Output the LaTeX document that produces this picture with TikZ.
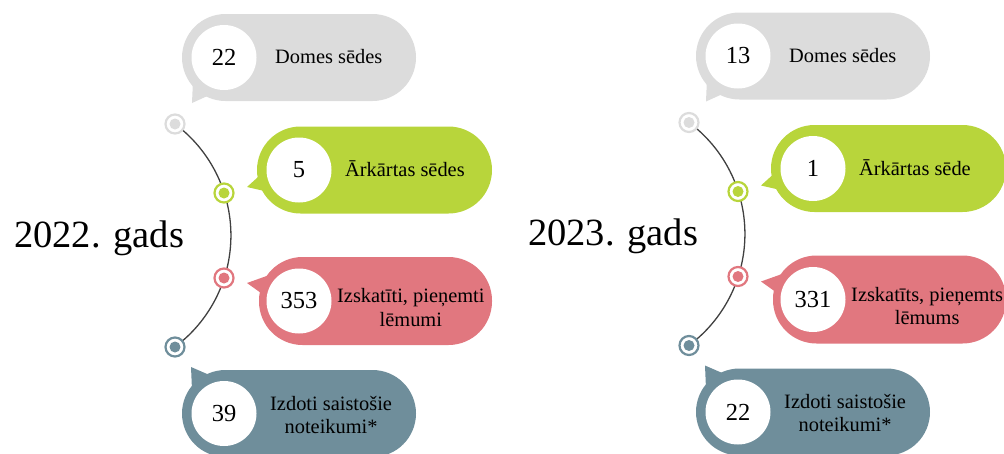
\documentclass[tikz,border=0pt]{standalone}
\usepackage{fontspec}
\setmainfont{Liberation Serif}
\usetikzlibrary{backgrounds}
\definecolor{cgrey}{HTML}{DCDCDC}
\definecolor{cgreen}{HTML}{B8D53B}
\definecolor{cpink}{HTML}{E1777F}
\definecolor{cblue}{HTML}{6F8E9B}
\definecolor{carc}{HTML}{404040}
\tikzset{
  pillshape/.style={fill=#1, rounded corners=43.5pt},
  tailshape/.style={fill=#1},
  marker/.style={circle, draw=#1, fill=white, line width=2.2pt, minimum size=19pt, inner sep=0pt,
    path picture={\fill[#1] (path picture bounding box.center) circle (5.5pt);}},
  numcirc/.style={circle, fill=white, minimum size=65pt, inner sep=0pt, font=\fontsize{24.5}{28}\selectfont},
  lbl/.style={inner sep=0pt, anchor=base west, font=\fontsize{20.4}{23.3}\selectfont},
  yr/.style={inner sep=0pt, anchor=base west, font=\fontsize{38.5}{44}\selectfont},
  arcline/.style={draw=carc, line width=1.3pt}
}
\newcommand\yeargroup[9]{%
  % pills and tails
  \fill[pillshape=cgrey] (182,14) rectangle (416,101);
  \fill[tailshape=cgrey] (192,103) -- (193,80) -- (214,93) -- cycle;
  \fill[pillshape=cgreen] (257,126.5) rectangle (492,213.5);
  \fill[tailshape=cgreen] (247,187) -- (269,167) -- (273,193) -- cycle;
  \fill[pillshape=cpink] (259,257) rectangle (492,345);
  \fill[tailshape=cpink] (247,283) -- (275,273) -- (275,303) -- cycle;
  \fill[pillshape=cblue] (182,370) rectangle (416,457);
  \fill[tailshape=cblue] (191,367) -- (192,390) -- (214,377) -- cycle;
  % number circles
  \node[numcirc] (#1n1) at (224,57.5) {#3};
  \node[numcirc] (#1n2) at (299,170) {#4};
  \node[numcirc] (#1n3) at (299,301) {#5};
  \node[numcirc] (#1n4) at (224,413.5) {#6};
  % labels
  \node[lbl] (#1l1) at (275,63.5) {Domes sēdes};
  \node[lbl] (#1l2) at (345,176.5) {#7};
  \node[lbl] (#1l3) at (337,302.7) {\begin{tabular}[t]{@{}c@{}}#8\\#9\end{tabular}};
  \node[lbl] (#1l4) at (270,410) {\begin{tabular}[t]{@{}c@{}}Izdoti saistošie\\noteikumi*\end{tabular}};
  % year
  \node[yr] (#1y) at (14,247) {#2};
  % timeline markers
  \node[marker=cgrey] (#1m1) at (175,124) {};
  \node[marker=cgreen] (#1m2) at (224,193) {};
  \node[marker=cpink] (#1m3) at (224,278) {};
  \node[marker=cblue] (#1m4) at (175,347) {};
  \begin{pgfonlayer}{background}
    \draw[arcline] (#1m1.center) arc[start angle=-53.3, end angle=53.3, radius=139];
  \end{pgfonlayer}
}
\begin{document}
\begin{tikzpicture}[x=1pt,y=-1pt]
\useasboundingbox (0,0) rectangle (1004,453);
\clip (0,0) rectangle (1004,453);
\begin{scope}
\yeargroup{a}{2022. gads}{22}{5}{353}{39}{Ārkārtas sēdes}{Izskatīti, pieņemti}{lēmumi}
\end{scope}
\begin{scope}[shift={(514,-1.5)}]
\yeargroup{b}{2023. gads}{13}{1}{331}{22}{Ārkārtas sēde}{Izskatīts, pieņemts}{lēmums}
\end{scope}
\end{tikzpicture}
\end{document}
